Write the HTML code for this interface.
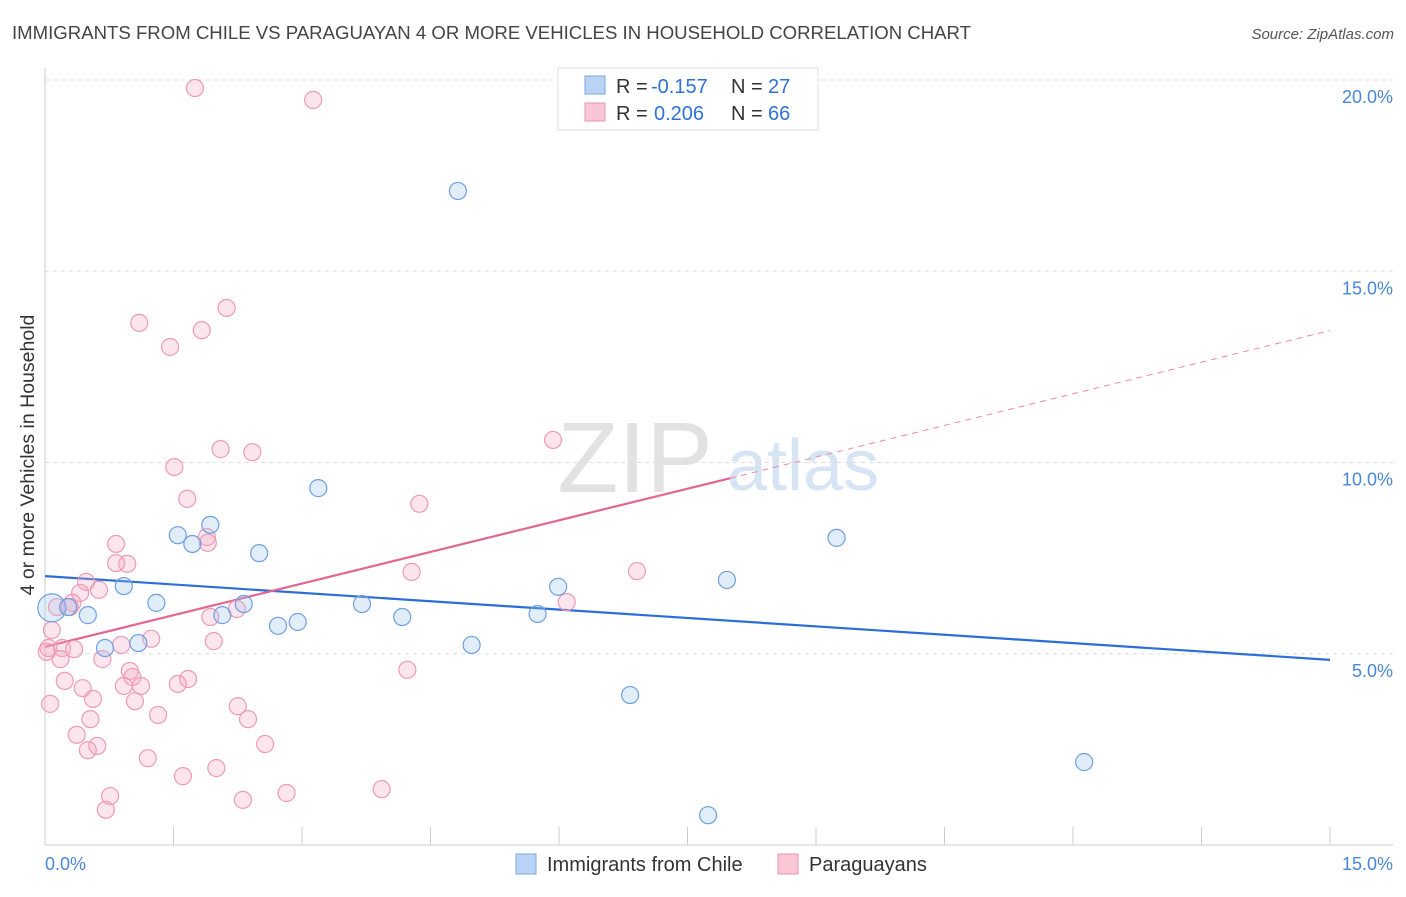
<!DOCTYPE html>
<html><head><meta charset="utf-8">
<style>
body{margin:0;background:#fff;font-family:"Liberation Sans",sans-serif;}
svg text{font-family:"Liberation Sans",sans-serif;}
</style></head>
<body>
<svg id="chart" width="1406" height="892" xmlns="http://www.w3.org/2000/svg">
<text x="12" y="39" font-size="18" fill="#444" textLength="959" lengthAdjust="spacingAndGlyphs">IMMIGRANTS FROM CHILE VS PARAGUAYAN 4 OR MORE VEHICLES IN HOUSEHOLD CORRELATION CHART</text>
<text x="1394" y="39" font-size="15" fill="#555" text-anchor="end" font-style="italic">Source: ZipAtlas.com</text>
<g>
<text x="635" y="492" font-size="100" fill="#e2e2e2" font-family="Liberation Serif" text-anchor="middle">ZIP</text>
<text x="803" y="490" font-size="72" fill="#d6e4f3" text-anchor="middle">atlas</text>
</g>
<g id="grid"></g>
<g id="axes"></g>
<g id="lines"></g>
<g id="points"></g>
<g>
<rect x="558" y="68" width="260" height="62" fill="#fff" stroke="#ddd"/>
<rect x="585" y="76" width="20" height="18" fill="#b9d3f5" stroke="#7aa7e0"/>
<text x="616" y="93" font-size="20" fill="#333">R =</text>
<text x="651" y="93" font-size="20" fill="#2f72d6">-0.157</text>
<text x="731" y="93" font-size="20" fill="#333">N =</text>
<text x="768" y="93" font-size="20" fill="#2f72d6">27</text>
<rect x="585" y="103" width="20" height="18" fill="#f9c6d6" stroke="#ec93b0"/>
<text x="616" y="120" font-size="20" fill="#333">R =</text>
<text x="654" y="120" font-size="20" fill="#2f72d6">0.206</text>
<text x="731" y="120" font-size="20" fill="#333">N =</text>
<text x="768" y="120" font-size="20" fill="#2f72d6">66</text>
</g>
<g>
<rect x="516" y="854" width="20" height="20" fill="#b9d3f5" stroke="#7aa7e0"/>
<text x="547" y="871" font-size="20" fill="#333">Immigrants from Chile</text>
<rect x="778" y="854" width="20" height="20" fill="#f9c6d6" stroke="#ec93b0"/>
<text x="809" y="871" font-size="20" fill="#333">Paraguayans</text>
</g>
<text transform="translate(34,455) rotate(-90)" font-size="19.5" fill="#333" text-anchor="middle">4 or more Vehicles in Household</text>
</svg>
<script>
const yTicks=[5,10,15,20];
const yTickLabels=["5.0%","10.0%","15.0%","20.0%"];
const xTickLabels=["0.0%","15.0%"];
const chileX=[0.08,0.27,0.50,0.70,0.92,1.09,1.30,1.55,1.72,1.93,2.07,2.32,2.50,2.72,2.95,3.19,3.70,4.17,4.82,4.98,5.75,5.99,6.83,7.74,7.96,9.24,12.13];
const chileY=[6.20,6.22,6.01,5.15,6.77,5.28,6.33,8.10,7.87,8.37,6.01,6.30,7.63,5.73,5.83,9.33,6.30,5.96,17.10,5.23,6.04,6.75,3.92,0.78,6.93,8.03,2.17];
const parX=[1.75,3.13,1.10,2.12,1.83,1.46,2.05,2.42,1.51,5.93,1.66,4.37,0.83,1.89,1.90,0.96,0.83,4.28,6.91,0.48,0.41,0.63,0.32,0.29,0.14,2.24,1.93,6.09,0.08,1.24,0.89,1.97,0.04,0.20,0.34,0.67,0.18,0.99,1.02,4.23,1.67,1.55,0.23,0.92,1.12,0.44,0.56,1.05,0.06,2.25,1.32,0.53,2.37,0.37,0.61,0.50,2.57,1.20,2.00,1.61,0.76,2.82,3.93,2.31,0.71,0.02];
const parY=[19.79,19.48,13.65,14.04,13.46,13.02,10.35,10.27,9.88,10.59,9.05,8.92,7.87,8.05,7.90,7.35,7.37,7.14,7.16,6.88,6.59,6.67,6.33,6.22,6.22,6.17,5.96,6.35,5.62,5.39,5.23,5.33,5.15,5.15,5.12,4.86,4.86,4.55,4.39,4.58,4.34,4.21,4.29,4.16,4.16,4.10,3.82,3.76,3.69,3.63,3.40,3.29,3.29,2.88,2.59,2.48,2.64,2.27,2.01,1.80,1.28,1.36,1.46,1.18,0.92,5.05];
const chileLine=[7.03,4.84];
const parLine=[5.18,13.45];
const NS="http://www.w3.org/2000/svg";
const X=v=>45+v*(1330-45)/15;
const Y=v=>845-v*38.25;
function mk(tag,attrs,parent){const e=document.createElementNS(NS,tag);for(const k in attrs)e.setAttribute(k,attrs[k]);document.getElementById(parent).appendChild(e);return e;}
yTicks.forEach((t,i)=>{
 const g=mk('line',{x1:45,x2:1393,y1:Y(t),y2:Y(t),stroke:'#ddd','stroke-dasharray':'4,4'},'grid');
 
 
 const l=mk('text',{x:1393,y:Y(t)+23,'font-size':18,fill:'#4a86d8','text-anchor':'end'},'axes');
 l.textContent=yTickLabels[i];
 
 
});
const ax=mk('line',{x1:45,x2:1393,y1:845,y2:845,stroke:'#ccc'},'axes');


const ay=mk('line',{x1:45,x2:45,y1:68,y2:845,stroke:'#ccc'},'axes');


for(let i=0;i<=10;i++){
 const t=mk('line',{x1:X(i*1.5),x2:X(i*1.5),y1:827,y2:845,stroke:'#ccc'},'axes');
 
 
}
const xl0=mk('text',{x:45,y:870,'font-size':18,fill:'#4a86d8'},'axes');xl0.textContent=xTickLabels[0];


const xl1=mk('text',{x:1393,y:870,'font-size':18,fill:'#4a86d8','text-anchor':'end'},'axes');xl1.textContent=xTickLabels[1];


parX.forEach((x,i)=>{
 const c=mk('circle',{cx:X(x),cy:Y(parY[i]),r:8.5,fill:'rgba(246,170,195,0.3)',stroke:'#ee9ab6','stroke-width':1.2},'points');
 
 
});
chileX.forEach((x,i)=>{
 const c=mk('circle',{cx:X(x),cy:Y(chileY[i]),r:i===0?14:8.5,fill:'rgba(160,196,240,0.3)',stroke:'#6d9fe0','stroke-width':1.2},'points');
 
 
});
const bl=mk('line',{x1:X(0),y1:Y(chileLine[0]),x2:X(15),y2:Y(chileLine[1]),stroke:'#2b6fd6','stroke-width':2.2},'lines');


const pm=v=>parLine[0]+(parLine[1]-parLine[0])*v/15;
const ps=mk('line',{x1:X(0),y1:Y(pm(0)),x2:X(8),y2:Y(pm(8)),stroke:'#e36590','stroke-width':2.2},'lines');


const pd=mk('line',{x1:X(8),y1:Y(pm(8)),x2:X(15),y2:Y(pm(15)),stroke:'#e88aa8','stroke-width':1,'stroke-dasharray':'6,5'},'lines');


</script>
</body></html>
